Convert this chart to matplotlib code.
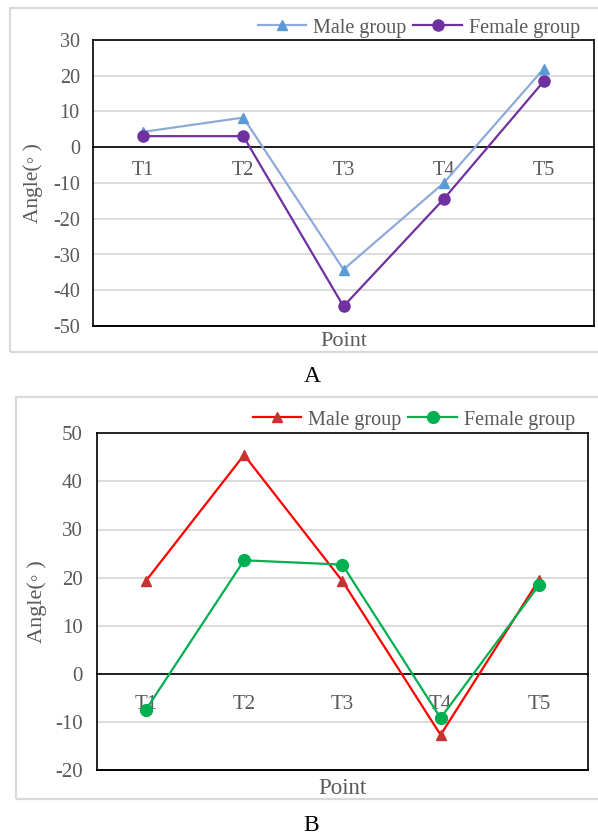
import matplotlib
matplotlib.use("Agg")
import matplotlib.pyplot as plt
from matplotlib.patches import Rectangle

plt.rcParams['font.family'] = ['Liberation Serif', 'DejaVu Serif']

categories = ["T1", "T2", "T3", "T4", "T5"]
series_names = ["Male group", "Female group"]

a_male = [4.3, 8.3, -34.2, -10.0, 22.0]
a_female = [3.1, 3.1, -44.5, -14.5, 18.5]
a_yticks = [30, 20, 10, 0, -10, -20, -30, -40, -50]

b_male = [19.3, 45.5, 19.3, -12.7, 19.5]
b_female = [-7.5, 23.6, 22.7, -9.2, 18.4]
b_yticks = [50, 40, 30, 20, 10, 0, -10, -20]

W, H = 598, 838
TXT = '#595959'
GRID = '#d9d9d9'

fig = plt.figure(figsize=(W / 100, H / 100), dpi=100)


def fx(px):
    return px / W


def fy(py):
    return 1 - py / H


def panel(box, axrect, male, female, yticks, male_style, female_style,
          tick_fs, leg_fs, ylab_fs, xlab_fs, ylab_x, xlab_y, leg_right, leg_y,
          ticklabel_pad, ytick_pad):
    bx0, by0, by1 = box
    fig.patches.append(Rectangle((fx(bx0), fy(by1)), 1.2, fy(by0) - fy(by1),
                                 transform=fig.transFigure, fill=False,
                                 edgecolor=GRID, lw=1.6, zorder=0))
    l, t, r, b = axrect
    ax = fig.add_axes([fx(l), fy(b), fx(r) - fx(l), fy(t) - fy(b)])
    x = list(range(len(categories)))
    ax.set_xlim(-0.5, len(categories) - 0.5)
    ax.set_ylim(min(yticks), max(yticks))
    ax.set_yticks(yticks)
    ax.set_yticklabels([str(v) for v in yticks])
    ax.yaxis.grid(True, color=GRID, lw=1.3)
    ax.set_axisbelow(True)
    ax.tick_params(axis='y', length=0, labelsize=tick_fs, labelcolor=TXT,
                   pad=ytick_pad)
    ax.set_xticks(x)
    ax.set_xticklabels(categories)
    ax.tick_params(axis='x', length=0, labelsize=tick_fs, labelcolor=TXT,
                   pad=ticklabel_pad)
    for s in ['left', 'right', 'top', 'bottom']:
        ax.spines[s].set_color('black')
        ax.spines[s].set_linewidth(1.2)
    ax.spines['bottom'].set_position(('data', 0))
    ax.axhline(min(yticks), color='black', lw=1.4, clip_on=False, zorder=5)
    l1, = ax.plot(x, male, **male_style, label=series_names[0], zorder=3)
    l2, = ax.plot(x, female, **female_style, label=series_names[1], zorder=4)
    fig.text(fx(ylab_x), fy((t + b) / 2), 'Angle(◦ )', rotation=90,
             ha='center', va='center', fontsize=ylab_fs, color=TXT)
    fig.text(fx((l + r) / 2), fy(xlab_y), 'Point', ha='center', va='center',
             fontsize=xlab_fs, color=TXT)
    leg = fig.legend(handles=[l1, l2], loc='center right',
                     bbox_to_anchor=(fx(leg_right), fy(leg_y)), ncol=2,
                     frameon=False, fontsize=leg_fs, borderpad=0,
                     borderaxespad=0, handlelength=2.4, handletextpad=0.35,
                     columnspacing=0.35, numpoints=1)
    for txt in leg.get_texts():
        txt.set_color(TXT)
    return ax


panel((10, 8, 352), (93, 40, 594, 326), a_male, a_female, a_yticks,
      dict(color='#8eaadb', lw=1.6, marker='^', ms=7.5, mfc='#5b9bd5',
           mec='#5b9bd5'),
      dict(color='#7030a0', lw=1.6, marker='o', ms=8, mfc='#7030a0',
           mec='#7030a0'),
      tick_fs=14.5, leg_fs=14.5, ylab_fs=15.5, xlab_fs=16, ylab_x=33,
      xlab_y=342, leg_right=580, leg_y=28, ticklabel_pad=10, ytick_pad=9.5)

panel((15.5, 397, 799), (96.7, 433.3, 588, 770), b_male, b_female, b_yticks,
      dict(color='#ff0000', lw=1.6, marker='^', ms=7, mfc='#c83232',
           mec='#c83232'),
      dict(color='#00b050', lw=1.6, marker='o', ms=8.5, mfc='#00b050',
           mec='#00b050'),
      tick_fs=15, leg_fs=14.5, ylab_fs=16, xlab_fs=16.5, ylab_x=37,
      xlab_y=788, leg_right=575, leg_y=420, ticklabel_pad=15, ytick_pad=10)

fig.text(fx(312), fy(376), 'A', ha='center', va='center', fontsize=17,
         color='black')
fig.text(fx(311), fy(825), 'B', ha='center', va='center', fontsize=17,
         color='black')

fig.savefig('out.png', dpi=100)
